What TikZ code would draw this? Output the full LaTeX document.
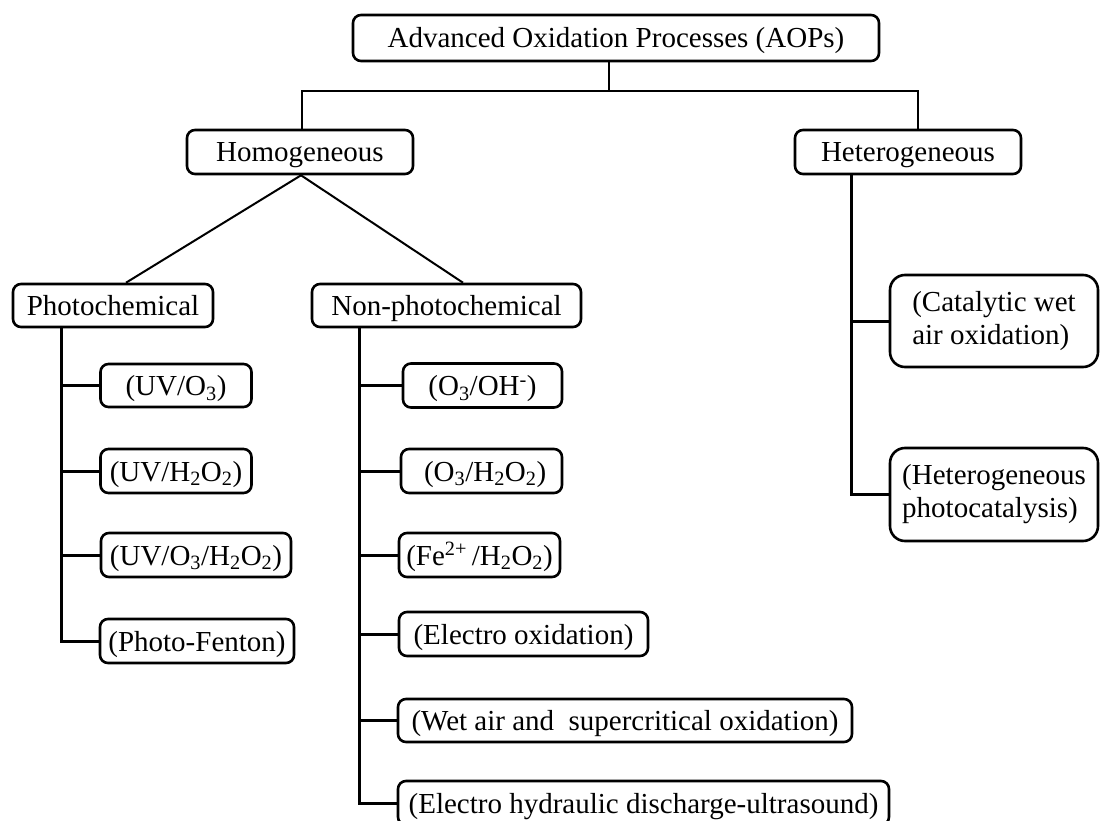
\documentclass[tikz,border=0pt]{standalone}
\usepackage{fontspec}
\setmainfont{Liberation Serif}
\usetikzlibrary{calc, positioning}

\begin{document}
\begin{tikzpicture}[x=1pt, y=-1pt,
  frame/.style={draw, line width=2.6pt, rounded corners=8pt, inner sep=0pt,
    font=\fontsize{29}{33}\selectfont},
  box/.style={frame, text height=20pt, text depth=0pt},
  bigbox/.style={frame, rounded corners=15pt, align=left},
  link/.style={line width=2pt},
  trunk/.style={line width=3pt}]
\fill[white] (0,0) rectangle (1102,821);
\useasboundingbox (0,0) rectangle (1102,821);
\clip (0,0) rectangle (1102,821);

\node[box, minimum width=526, minimum height=46] (aop) at (616,38) {Advanced Oxidation Processes (AOPs)};
\node[box, minimum width=226, minimum height=44] (homo) at (300,152) {Homogeneous};
\node[box, minimum width=226, minimum height=44] (hetero) at (908,152) {Heterogeneous};
\node[box, minimum width=200, minimum height=43] (photo) at (113,305.5) {Photochemical};
\node[box, minimum width=269, minimum height=43] (nonphoto) at (446.5,305.5) {Non-photochemical};

% photochemical
\node[box, minimum width=151, minimum height=43] (uvo) at (176,385.5) {(UV/O\textsubscript{3})};
\node[box, minimum width=151, minimum height=44] (uvh) at (176,471) {(UV/H\textsubscript{2}O\textsubscript{2})};
\node[box, minimum width=190, minimum height=44] (uvoh) at (196,555) {(UV/O\textsubscript{3}/H\textsubscript{2}O\textsubscript{2})};
\node[box, minimum width=194, minimum height=44] (fenton) at (197,641) {(Photo-Fenton)};

% non-photochemical
\node[box, minimum width=159, minimum height=44] (ozoh) at (482.5,385.5) {(O\textsubscript{3}/OH\textsuperscript{-})};
\node[box, minimum width=161, minimum height=44] (ozh) at (481.5,471) {\ (O\textsubscript{3}/H\textsubscript{2}O\textsubscript{2})};
\node[box, minimum width=161, minimum height=44] (fent) at (479.5,555) {(Fe\textsuperscript{2+}\,/H\textsubscript{2}O\textsubscript{2})};
\node[box, minimum width=249, minimum height=44] (eox) at (523.5,634) {(Electro oxidation)};
\node[box, minimum width=454, minimum height=43] (wet) at (625,720.5) {(Wet air and\ \ supercritical oxidation)};
\node[box, minimum width=491, minimum height=44] (ehd) at (643.5,803) {(Electro hydraulic discharge-ultrasound)};

% heterogeneous
\node[bigbox, minimum width=208, minimum height=92] (cwao) at (994,321) {(Catalytic wet\\air oxidation)};
\node[bigbox, minimum width=208, minimum height=93] (hpc) at (994,494.5) {(Heterogeneous\\photocatalysis)};

\coordinate (fork) at (609,91);
\draw[link] (fork |- aop.south) -- (fork);
\draw[link] ([xshift=2]homo.north) |- (fork) -| ([xshift=10]hetero.north);
\draw[link] ([xshift=1]homo.south) -- ([xshift=13]photo.north);
\draw[link] ([xshift=1]homo.south) -- ([xshift=16.5]nonphoto.north);

\coordinate (ptr) at ([xshift=49.5]photo.south west);
\draw[trunk] (ptr) |- (fenton.west);
\foreach \n in {uvo, uvh, uvoh}
  \draw[trunk] (ptr |- \n.west) -- (\n.west);

\coordinate (ntr) at ([xshift=49]nonphoto.south west);
\draw[trunk] (ntr) |- (ehd.west);
\foreach \n in {ozoh, ozh, fent, eox, wet}
  \draw[trunk] (ntr |- \n.west) -- (\n.west);

\coordinate (htr) at ([xshift=58]hetero.south west);
\draw[trunk] (htr) |- (hpc.west);
\draw[trunk] (htr |- cwao.west) -- (cwao.west);
\end{tikzpicture}
\end{document}
